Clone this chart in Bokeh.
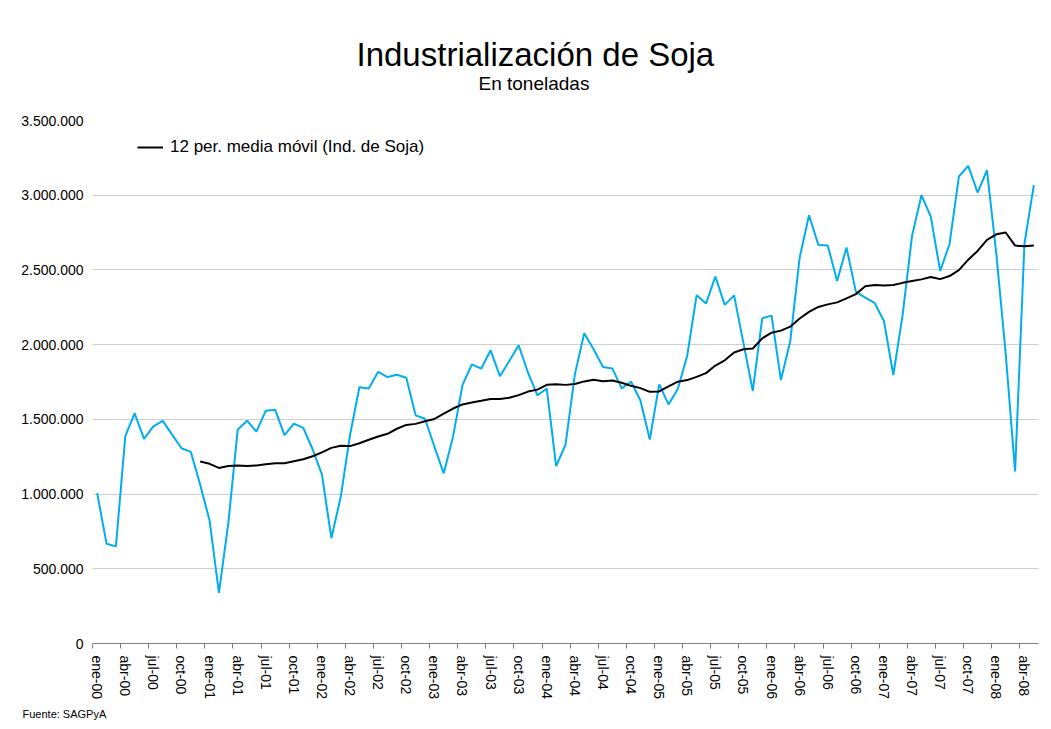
from bokeh.plotting import figure
from bokeh.models import (Range1d, FixedTicker, Legend, LegendItem, ColumnDataSource, Title)
from bokeh.embed import file_html
from bokeh.resources import INLINE
import pandas as pd

# ---- data ----
abreviaturas = ["ene", "feb", "mar", "abr", "may", "jun", "jul", "ago", "sep", "oct", "nov", "dic"]
meses = [f"{m}-{a:02d}" for a in range(0, 9) for m in abreviaturas][:101]   # ene-00 .. may-08

soja = [
    1006000, 668000, 650000, 1387000, 1540000, 1370000, 1453000, 1490000, 1398000, 1307000, 1282000, 1062000,
    823000, 339000, 805000, 1430000, 1491000, 1418000, 1558000, 1565000, 1395000, 1471000, 1443000, 1300000,
    1130000, 705000, 980000, 1397000, 1715000, 1706000, 1818000, 1783000, 1798000, 1778000, 1527000, 1504000,
    1318000, 1139000, 1386000, 1729000, 1868000, 1839000, 1962000, 1789000, 1890000, 1996000, 1812000, 1661000,
    1706000, 1187000, 1330000, 1801000, 2076000, 1969000, 1850000, 1841000, 1707000, 1752000, 1626000, 1365000,
    1734000, 1600000, 1705000, 1928000, 2331000, 2275000, 2456000, 2266000, 2330000, 2010000, 1690000, 2176000,
    2194000, 1763000, 2025000, 2583000, 2866000, 2667000, 2663000, 2426000, 2650000, 2355000, 2315000, 2279000,
    2158000, 1797000, 2203000, 2728000, 3000000, 2857000, 2493000, 2672000, 3125000, 3196000, 3018000, 3167000,
    2606000, 1939000, 1151000, 2675000, 3067000,
]

etiquetas_x = ["ene-00", "abr-00", "jul-00", "oct-00", "ene-01", "abr-01", "jul-01", "oct-01",
               "ene-02", "abr-02", "jul-02", "oct-02", "ene-03", "abr-03", "jul-03", "oct-03",
               "ene-04", "abr-04", "jul-04", "oct-04", "ene-05", "abr-05", "jul-05", "oct-05",
               "ene-06", "abr-06", "jul-06", "oct-06", "ene-07", "abr-07", "jul-07", "oct-07",
               "ene-08", "abr-08"]
ticks_y = [0, 500000, 1000000, 1500000, 2000000, 2500000, 3000000, 3500000]
etiquetas_y = ["0", "500.000", "1.000.000", "1.500.000", "2.000.000", "2.500.000", "3.000.000", "3.500.000"]

titulo = "Industrialización de Soja"
subtitulo = "En toneladas"
fuente = "Fuente: SAGPyA"
leyenda_ma = "12 per. media móvil (Ind. de Soja)"

# ---- derived ----
idx = list(range(len(meses)))
df = pd.DataFrame({"x": idx, "mes": meses, "soja": soja})
df["ma"] = df["soja"].rolling(12).mean()
src = ColumnDataSource(df)
src_ma = ColumnDataSource(df.dropna())

pos_etiquetas = [meses.index(e) for e in etiquetas_x]
limites = [p - 0.5 for p in pos_etiquetas]

FONT = "Liberation Sans"

p = figure(width=1043, height=722, output_backend="svg", toolbar_location=None, title=None,
           x_range=Range1d(-0.5, len(meses) - 0.5), y_range=Range1d(0, 3500000),
           min_border_left=92, min_border_right=5, min_border_top=120, min_border_bottom=78)
p.outline_line_color = None
p.background_fill_color = "white"
p.border_fill_color = "white"

# x axis
xa = p.xaxis[0]
xa.ticker = FixedTicker(ticks=pos_etiquetas, minor_ticks=limites)
xa.major_label_overrides = {pt: lab for pt, lab in zip(pos_etiquetas, etiquetas_x)}
xa.major_label_orientation = "vertical"
xa.major_tick_in = 0
xa.major_tick_out = 0
xa.major_tick_line_color = None
xa.minor_tick_in = 0
xa.minor_tick_out = 5
xa.minor_tick_line_color = "#808080"
xa.axis_line_color = "#808080"
xa.major_label_text_font = FONT
xa.major_label_text_font_size = "14px"
xa.major_label_text_color = "#000000"
xa.major_label_standoff = 7

# y axis
ya = p.yaxis[0]
ya.ticker = FixedTicker(ticks=ticks_y)
ya.major_label_overrides = {t: l for t, l in zip(ticks_y, etiquetas_y)}
ya.axis_line_color = None
ya.major_tick_line_color = None
ya.minor_tick_line_color = None
ya.major_label_text_font = FONT
ya.major_label_text_font_size = "14px"
ya.major_label_text_color = "#000000"
ya.major_label_standoff = 3

p.xgrid.visible = False
p.ygrid.ticker = FixedTicker(ticks=ticks_y)
p.ygrid.grid_line_color = "#cfcfcf"
p.ygrid.grid_line_width = 1

r_soja = p.line("x", "soja", source=src, line_color="#00AEEF", line_width=2)
r_ma = p.line("x", "ma", source=src_ma, line_color="#000000", line_width=2)

legend = Legend(items=[LegendItem(label=leyenda_ma, renderers=[r_ma])],
                location=(45, 486), border_line_color=None, background_fill_alpha=0,
                label_text_font=FONT, label_text_font_size="17px", label_text_color="#000000",
                glyph_width=26, glyph_height=20, label_standoff=7, padding=0, margin=0)
p.add_layout(legend, "center")

# titles (first added "above" sits closest to the plot area)
p.add_layout(Title(text=subtitulo, align="left", offset=386, standoff=54,
                   text_font=FONT, text_font_size="19px", text_font_style="normal",
                   text_color="#000000"), "above")
p.add_layout(Title(text=titulo, align="left", offset=264, standoff=-58,
                   text_font=FONT, text_font_size="33px", text_font_style="normal",
                   text_color="#000000"), "above")
p.add_layout(Title(text=fuente, align="left", offset=-70, standoff=6,
                   text_font=FONT, text_font_size="11px", text_font_style="normal",
                   text_color="#000000"), "below")

open("out.html", "w").write(file_html(p, INLINE))
